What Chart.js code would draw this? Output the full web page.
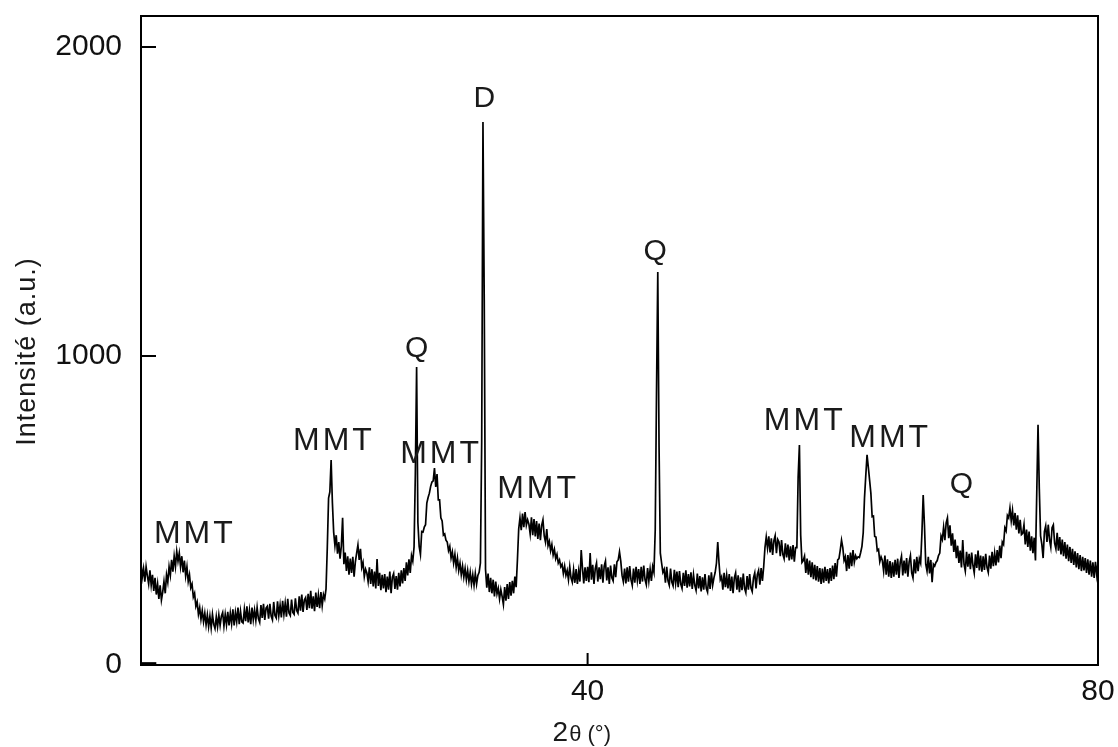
<!DOCTYPE html>
<html>
<head>
<meta charset="utf-8">
<script src="https://cdn.jsdelivr.net/npm/chart.js@4.4.1/dist/chart.umd.min.js"></script>
<style>
  body { margin: 0; background: #fff; }
  #wrap { width: 1118px; height: 747px; }
</style>
</head>
<body>
<div id="wrap"><canvas id="xrd" width="1118" height="747"></canvas></div>
<script>
// scan 5..80 deg 2theta, one reading every 0.1 deg
const start2Theta = 5;
const step2Theta = 0.1;

const intensity5to20 = [
  330, 284, 312, 270, 318, 288, 262, 306, 258, 292,
  240, 282, 228, 262, 214, 258, 210, 236, 270, 232,
  292, 268, 318, 290, 340, 302, 352, 318, 368, 336,
  362, 318, 352, 300, 338, 288, 318, 270, 292, 250,
  262, 220, 232, 190, 204, 164, 186, 148, 176, 140,
  168, 130, 162, 124, 158, 120, 164, 132, 118, 156,
  124, 162, 128, 158, 170, 126, 164, 130, 172, 128,
  168, 134, 180, 128, 170, 140, 186, 132, 174, 140,
  136, 180, 142, 190, 138, 176, 132, 186, 146, 178,
  144, 186, 150, 138, 194, 152, 198, 146, 184, 190,
  150, 198, 158, 146, 204, 160, 152, 206, 160, 194,
  154, 208, 164, 200, 156, 214, 168, 160, 212, 170,
  164, 216, 176, 168, 222, 176, 228, 172, 210, 218,
  178, 230, 184, 240, 182, 222, 174, 234, 188, 226,
  184, 236, 192, 228, 214, 246, 380, 540, 560, 663
];

const intensity20to35 = [
  525, 430, 386, 420, 360, 398, 344, 385, 476, 326,
  364, 304, 352, 292, 344, 298, 350, 286, 334, 362,
  388, 340, 376, 316, 332, 286, 310, 298, 270, 316,
  262, 310, 254, 302, 248, 343, 256, 298, 242, 292,
  248, 294, 236, 286, 244, 302, 232, 284, 296, 246,
  288, 244, 298, 254, 306, 264, 314, 272, 332, 290,
  342, 298, 354, 336, 382, 620, 964, 460, 384, 358,
  432, 430, 446, 454, 524, 542, 556, 578, 592, 596,
  637, 576, 618, 534, 534, 476, 466, 420, 424, 404,
  398, 370, 384, 346, 366, 330, 358, 316, 346, 306,
  330, 292, 320, 284, 312, 276, 306, 270, 300, 262,
  292, 258, 296, 262, 290, 300, 330, 720, 1757, 1180,
  310, 250, 296, 236, 282, 232, 276, 222, 270, 230,
  248, 214, 244, 222, 196, 252, 208, 262, 214, 268,
  224, 272, 232, 286, 252, 340, 440, 476, 436, 490
];

const intensity35to50 = [
  446, 495, 452, 470, 456, 424, 478, 420, 472, 416,
  466, 408, 458, 404, 452, 470, 418, 398, 440, 386,
  400, 370, 390, 356, 374, 344, 358, 330, 340, 318,
  326, 296, 320, 290, 306, 276, 318, 282, 268, 308,
  266, 310, 262, 304, 270, 372, 312, 264, 316, 272,
  318, 268, 362, 276, 324, 262, 312, 330, 270, 316,
  278, 326, 266, 320, 336, 274, 316, 262, 322, 282,
  272, 326, 284, 334, 340, 366, 336, 290, 270, 312,
  264, 316, 270, 320, 276, 258, 312, 266, 318, 274,
  310, 262, 318, 270, 322, 276, 260, 314, 272, 310,
  272, 318, 300, 437, 880, 1272, 705, 362, 330, 300,
  310, 266, 318, 272, 258, 312, 268, 256, 308, 264,
  302, 252, 304, 262, 248, 298, 256, 306, 250, 294,
  254, 300, 246, 292, 258, 242, 296, 248, 288, 238,
  284, 244, 294, 248, 236, 290, 246, 300, 258, 282
];

const intensity50to65 = [
  300, 330, 398, 330, 276, 286, 244, 298, 252, 290,
  248, 294, 240, 286, 232, 282, 298, 244, 290, 236,
  284, 242, 296, 248, 234, 288, 244, 294, 250, 238,
  282, 298, 248, 292, 306, 260, 314, 272, 318, 380,
  414, 378, 416, 364, 410, 356, 402, 418, 362, 406,
  398, 352, 404, 358, 344, 394, 348, 390, 338, 384,
  342, 388, 334, 380, 380, 608, 712, 420, 332, 338,
  352, 298, 344, 292, 338, 284, 332, 278, 324, 274,
  320, 270, 314, 262, 312, 266, 318, 272, 310, 264,
  314, 272, 322, 278, 330, 286, 340, 344, 372, 404,
  380, 338, 350, 304, 356, 312, 364, 320, 372, 332,
  354, 344, 350, 348, 364, 384, 428, 540, 612, 680,
  640, 598, 556, 480, 482, 416, 414, 370, 374, 334,
  350, 338, 304, 354, 292, 342, 286, 336, 282, 332,
  286, 340, 292, 344, 282, 332, 352, 290, 338, 296
];

const intensity65to80 = [
  346, 286, 334, 354, 298, 282, 342, 296, 350, 304,
  344, 330, 426, 550, 452, 326, 304, 350, 296, 340,
  268, 326, 320, 332, 338, 354, 362, 418, 406, 446,
  404, 460, 476, 410, 452, 386, 426, 366, 406, 346,
  386, 330, 370, 316, 404, 326, 304, 366, 318, 360,
  310, 364, 322, 298, 358, 314, 370, 306, 354, 302,
  352, 308, 360, 316, 300, 354, 312, 366, 320, 362,
  322, 372, 332, 386, 346, 398, 390, 444, 434, 484,
  476, 508, 466, 500, 452, 492, 438, 484, 426, 470,
  422, 426, 454, 390, 438, 382, 432, 370, 416, 362,
  412, 338, 556, 777, 570, 418, 390, 346, 432, 450,
  398, 454, 406, 382, 444, 453, 394, 376, 428, 370,
  414, 358, 406, 352, 398, 344, 390, 336, 382, 330,
  376, 324, 368, 316, 362, 310, 356, 304, 350, 306,
  346, 298, 342, 292, 338, 286, 332, 282, 334, 292,
  330
];

// short flat run at zero at the start of the scan
const zeroRunX = [5, 6.2];
const zeroRunY = [6, 6];

const xTickValues = [40, 80];
const yTickValues = [0, 1000, 2000];

const peakNames = ["MMT", "MMT", "Q", "MMT", "D", "MMT", "Q", "MMT", "MMT", "Q"];
const peakNameX = [9.1, 20.0, 26.6, 28.4, 31.9, 36.0, 45.3, 56.9, 63.6, 69.3];
const peakNameY = [395, 695, 997, 654, 1806, 540, 1311, 760, 706, 557];

const intensity = intensity5to20.concat(intensity20to35, intensity35to50, intensity50to65, intensity65to80);
const scanPoints = intensity.map((v, i) => ({
  x: Math.round((start2Theta + i * step2Theta) * 10) / 10,
  y: v,
}));

const FONT = "'Liberation Sans', Arial, sans-serif";
const INK = "#111";

function drawSpaced(ctx, text, cx, baseY, gap) {
  const chars = [...text];
  const widths = chars.map((c) => ctx.measureText(c).width);
  const total = widths.reduce((a, b) => a + b, 0) + gap * (chars.length - 1);
  let xx = cx - total / 2;
  chars.forEach((c, i) => {
    ctx.fillText(c, xx, baseY);
    xx += widths[i] + gap;
  });
}

// no extra room for labels sticking out of the axes
function noScalePadding(scale) {
  scale.paddingTop = 0;
  scale.paddingBottom = 0;
  scale.paddingLeft = 0;
  scale.paddingRight = 0;
}

const frameAndLabels = {
  id: "frameAndLabels",
  afterDraw(chart) {
    const { ctx, chartArea: a } = chart;
    const xs = chart.scales.x;
    const ys = chart.scales.y;
    ctx.save();

    // box + inward ticks
    ctx.strokeStyle = "#000";
    ctx.lineWidth = 2;
    ctx.strokeRect(a.left, a.top, a.right - a.left, a.bottom - a.top);
    ctx.beginPath();
    yTickValues.forEach((v) => {
      const py = ys.getPixelForValue(v);
      ctx.moveTo(a.left, py);
      ctx.lineTo(a.left + 15, py);
    });
    xTickValues.forEach((v) => {
      const px = xs.getPixelForValue(v);
      ctx.moveTo(px, a.bottom);
      ctx.lineTo(px, a.bottom - 12);
    });
    ctx.stroke();

    // phase names over the peaks
    ctx.fillStyle = "#1a1a1a";
    ctx.textAlign = "left";
    ctx.textBaseline = "alphabetic";
    peakNames.forEach((name, i) => {
      const px = xs.getPixelForValue(peakNameX[i]);
      const py = ys.getPixelForValue(peakNameY[i]);
      if (name === "MMT") {
        ctx.font = "32px " + FONT;
        drawSpaced(ctx, name, px, py, 3);
      } else {
        ctx.font = "30px " + FONT;
        drawSpaced(ctx, name, px, py, 0);
      }
    });

    // y title
    ctx.save();
    ctx.translate(28, 352);
    ctx.rotate(-Math.PI / 2);
    ctx.font = "27px " + FONT;
    ctx.textBaseline = "middle";
    drawSpaced(ctx, "Intensité (a.u.)", 0, 0, 1);
    ctx.restore();

    // x title: big "2", smaller "θ (°)"
    const x0 = xs.getPixelForValue(40) - 35;
    const base = 741;
    ctx.textAlign = "left";
    ctx.textBaseline = "alphabetic";
    ctx.font = "28px " + FONT;
    ctx.fillText("2", x0, base);
    const w2 = ctx.measureText("2").width;
    ctx.font = "22px " + FONT;
    ctx.fillText("θ (°)", x0 + w2 + 1, base);

    ctx.restore();
  },
};

new Chart(document.getElementById("xrd").getContext("2d"), {
  type: "line",
  data: {
    datasets: [
      {
        label: "Intensité",
        data: scanPoints,
        borderColor: "#000",
        borderWidth: 1.7,
        pointRadius: 0,
        tension: 0,
      },
      {
        label: "zero",
        data: zeroRunX.map((x, i) => ({ x: x, y: zeroRunY[i] })),
        borderColor: "#000",
        borderWidth: 2,
        pointRadius: 0,
      },
    ],
  },
  options: {
    responsive: false,
    animation: false,
    layout: { padding: { left: 0, top: 16, right: 20, bottom: 0 } },
    plugins: {
      legend: { display: false },
      tooltip: { enabled: false },
    },
    scales: {
      x: {
        type: "linear",
        min: 5,
        max: 80,
        grid: { display: false, drawTicks: false },
        border: { display: false },
        afterBuildTicks: (scale) => {
          scale.ticks = xTickValues.map((v) => ({ value: v }));
        },
        afterFit: (scale) => {
          scale.height = 82;
          noScalePadding(scale);
        },
        ticks: {
          padding: 9,
          maxRotation: 0,
          autoSkip: false,
          color: INK,
          font: { family: FONT, size: 30 },
          callback: (v) => String(v),
        },
      },
      y: {
        min: 0,
        max: 2100,
        grid: { display: false, drawTicks: false },
        border: { display: false },
        afterBuildTicks: (scale) => {
          scale.ticks = yTickValues.map((v) => ({ value: v }));
        },
        afterFit: (scale) => {
          scale.width = 141;
          noScalePadding(scale);
        },
        ticks: {
          padding: 19,
          color: INK,
          font: { family: FONT, size: 30 },
          callback: (v) => String(v),
        },
      },
    },
  },
  plugins: [frameAndLabels],
});
</script>
</body>
</html>
